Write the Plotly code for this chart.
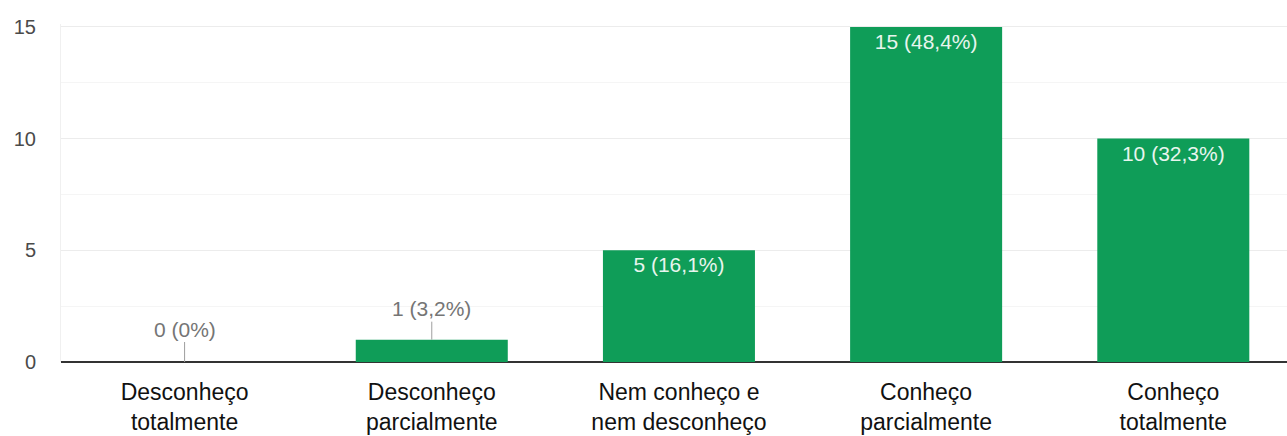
import plotly.graph_objects as go

categories = [
    "Desconheço<br>totalmente",
    "Desconheço<br>parcialmente",
    "Nem conheço e<br>nem desconheço",
    "Conheço<br>parcialmente",
    "Conheço<br>totalmente",
]
counts = [0, 1, 5, 15, 10]
percents = ["0%", "3,2%", "16,1%", "48,4%", "32,3%"]
y_ticks = [0, 5, 10, 15]

GREEN = "#0f9d58"
FONT = "Liberation Sans, Arial, sans-serif"

labels = [f"{c} ({p})" for c, p in zip(counts, percents)]
# Tall bars carry their label inside; short ones get a label above with a leader line
inside_min = 3
bar_text = [t if c >= inside_min else "" for c, t in zip(counts, labels)]

fig = go.Figure()
fig.add_trace(go.Bar(
    x=list(range(len(categories))),
    y=counts,
    width=0.615,
    marker=dict(color=GREEN, line=dict(width=0)),
    text=bar_text,
    textposition="inside",
    insidetextanchor="end",
    textangle=0,
    textfont=dict(family=FONT, size=21, color="#e8f5ee"),
    hoverinfo="skip",
    cliponaxis=False,
))

for i, (c, t) in enumerate(zip(counts, labels)):
    if c < inside_min:
        fig.add_annotation(
            x=i, y=c, xref="x", yref="y",
            text=t, showarrow=True, arrowhead=0, arrowwidth=1,
            arrowcolor="#9e9e9e", ax=0, ay=-33 if c == 0 else -31,
            standoff=0, startstandoff=0,
            font=dict(family=FONT, size=21, color="#757575"),
        )

fig.update_layout(
    width=1287, height=436,
    margin=dict(l=61, r=0, t=24, b=74),
    plot_bgcolor="white", paper_bgcolor="white",
    showlegend=False,
    bargap=0.385,
    font=dict(family=FONT),
)
fig.update_xaxes(
    range=[-0.5, 4.46],
    tickmode="array",
    tickvals=list(range(len(categories))),
    ticktext=categories,
    tickfont=dict(family=FONT, size=23, color="#111111"),
    showgrid=False, ticks="", showline=False, zeroline=False,
    ticklabelstandoff=14,
)
fig.update_yaxes(
    range=[0, 15.13],
    tickmode="array",
    tickvals=y_ticks,
    tickfont=dict(family=FONT, size=20, color="#4a4a4a"),
    showgrid=True, gridcolor="#ececec", gridwidth=1,
    minor=dict(dtick=2.5, showgrid=True, gridcolor="#f5f5f5", gridwidth=1),
    zeroline=True, zerolinecolor="#333333", zerolinewidth=2,
    showline=True, linecolor="#f0f0f0", linewidth=1,
    ticks="", ticklabelstandoff=20,
)

fig.write_html("out.html")
